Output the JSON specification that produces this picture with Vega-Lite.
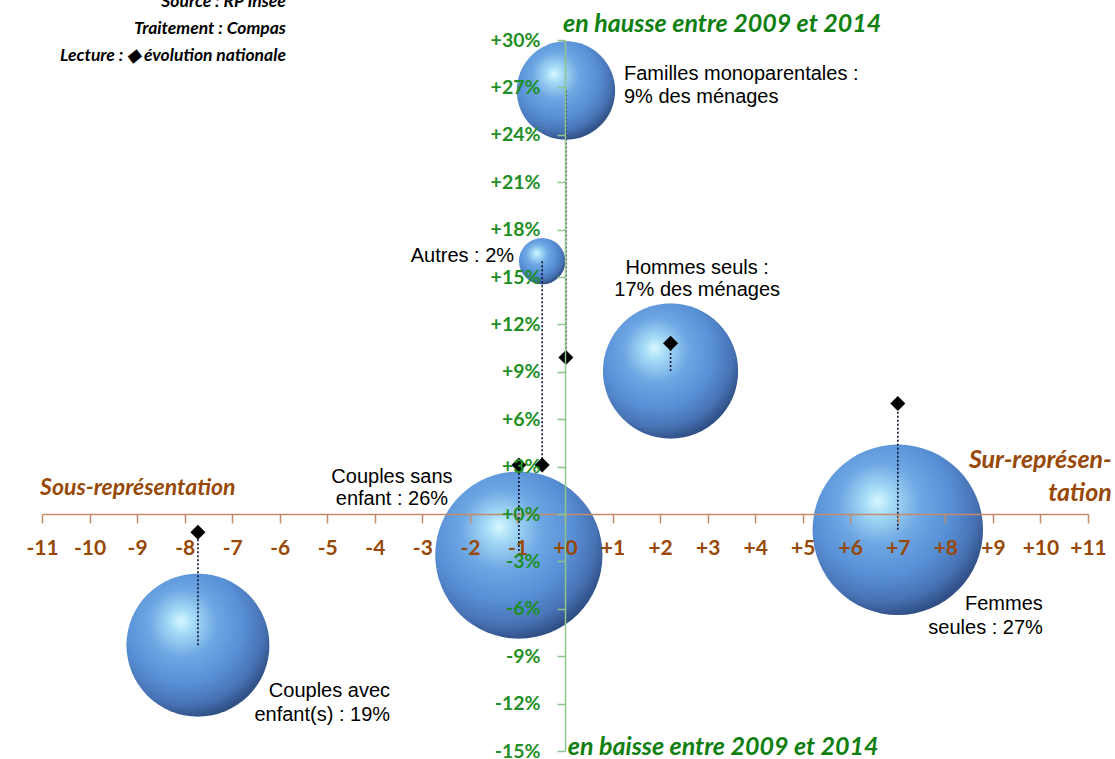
{
  "$schema": "https://vega.github.io/schema/vega-lite/v6.json",
  "width": 1046,
  "height": 711,
  "autosize": {"type": "none"},
  "padding": {"left": 42, "top": 40, "right": 27, "bottom": 8},
  "background": "white",
  "config": {"view": {"stroke": null}},
  "datasets": {
    "bulles": [
      {"type": "Familles monoparentales", "x": 0.02, "y": 26.8, "yn": 9.9, "part": 9},
      {"type": "Autres", "x": -0.48, "y": 16.0, "yn": 3.1, "part": 2},
      {"type": "Hommes seuls", "x": 2.22, "y": 9.05, "yn": 10.8, "part": 17},
      {"type": "Couples sans enfant", "x": -0.97, "y": -2.6, "yn": 3.1, "part": 26},
      {"type": "Femmes seules", "x": 7.0, "y": -1.0, "yn": 7.0, "part": 27},
      {"type": "Couples avec enfant(s)", "x": -7.72, "y": -8.3, "yn": -1.15, "part": 19}
    ],
    "etiq_gauche": [
      {"t": "Familles monoparentales :\n9% des ménages", "x": 1.24, "y": 27.85}
    ],
    "etiq_centre": [
      {"t": "Hommes seuls :\n17% des ménages", "x": 2.78, "y": 15.57},
      {"t": "Couples sans\nenfant : 26%", "x": -3.64, "y": 2.34}
    ],
    "etiq_droite": [
      {"t": "Autres : 2%", "x": -1.07, "y": 16.3},
      {"t": "Femmes\nseules : 27%", "x": 10.05, "y": -5.7},
      {"t": "Couples avec\nenfant(s) : 19%", "x": -3.68, "y": -11.2}
    ],
    "note": [
      {"t": "Source : RP Insee\nTraitement : Compas\nLecture : ◆ évolution nationale", "x": -5.87, "y": 32.4}
    ],
    "titre_sous": [
      {"t": "Sous-représentation", "x": -11.04, "y": 1.65}
    ],
    "titre_sur": [
      {"t": "Sur-représen-\ntation", "x": 11.5, "y": 3.42}
    ],
    "titre_vert": [
      {"t": "en hausse entre 2009 et 2014", "x": -0.04, "y": 31.0},
      {"t": "en baisse entre 2009 et 2014", "x": 0.06, "y": -14.75}
    ]
  },
  "encoding": {
    "x": {
      "field": "x", "type": "quantitative",
      "scale": {"domain": [-11, 11], "nice": false, "zero": false},
      "axis": {
        "title": null, "orient": "bottom", "offset": -237, "zindex": 1, "grid": false,
        "values": [-11,-10,-9,-8,-7,-6,-5,-4,-3,-2,-1,0,1,2,3,4,5,6,7,8,9,10,11],
        "labelExpr": "(datum.value >= 0 ? '+' : '') + datum.value",
        "domainColor": "#c38b6c", "domainWidth": 1.5,
        "tickColor": "#c38b6c", "tickWidth": 1.5, "tickSize": 9,
        "labelColor": "#984807", "labelFont": "Lato", "labelFontSize": 21, "labelFontWeight": "bold",
        "labelPadding": 14, "labelOverlap": false, "labelFlush": false
      }
    },
    "y": {
      "field": "y", "type": "quantitative",
      "scale": {"domain": [-15, 30], "nice": false, "zero": false},
      "axis": {
        "title": null, "orient": "left", "offset": -523, "zindex": 1, "grid": false,
        "values": [-15,-12,-9,-6,-3,0,3,6,9,12,15,18,21,24,27,30],
        "labelExpr": "(datum.value >= 0 ? '+' : '') + datum.value + '%'",
        "domainColor": "#8fc48f", "domainWidth": 1.5,
        "tickColor": "#8fc48f", "tickWidth": 1.5, "tickSize": 8,
        "labelColor": "#1f8f26", "labelFont": "Lato", "labelFontSize": 19.5, "labelFontWeight": "bold",
        "labelPadding": 17, "labelOverlap": false, "labelFlush": false
      }
    }
  },
  "layer": [
    {
      "data": {"name": "bulles"},
      "mark": {
        "type": "circle", "opacity": 1, "strokeWidth": 0,
        "fill": {
          "gradient": "radial", "x1": 0.38, "y1": 0.33, "r1": 0, "x2": 0.42, "y2": 0.38, "r2": 0.68,
          "stops": [
            {"offset": 0, "color": "#d8f8ff"},
            {"offset": 0.12, "color": "#a6dcf7"},
            {"offset": 0.35, "color": "#6ea7e3"},
            {"offset": 0.6, "color": "#5890d6"},
            {"offset": 0.8, "color": "#4873b5"},
            {"offset": 0.92, "color": "#32538a"},
            {"offset": 1, "color": "#2a4573"}
          ]
        }
      },
      "encoding": {
        "size": {"field": "part", "type": "quantitative", "scale": {"type": "linear", "domain": [0, 27], "range": [0, 29050], "zero": true}, "legend": null}
      }
    },
    {
      "data": {"name": "bulles"},
      "mark": {"type": "rule", "strokeDash": [2, 2], "strokeWidth": 1.6, "color": "#111133"},
      "encoding": {
        "y2": {"field": "yn"}
      }
    },
    {
      "data": {"name": "bulles"},
      "mark": {"type": "point", "shape": "diamond", "filled": true, "color": "black", "opacity": 1, "size": 225},
      "encoding": {
        "y": {"field": "yn", "type": "quantitative", "scale": {"domain": [-15, 30], "nice": false, "zero": false}}
      }
    },
    {
      "data": {"name": "etiq_gauche"},
      "mark": {"type": "text", "align": "left", "baseline": "middle", "lineBreak": "\n", "lineHeight": 23, "font": "Liberation Sans", "fontSize": 20, "color": "black"},
      "encoding": {"text": {"field": "t"}}
    },
    {
      "data": {"name": "etiq_centre"},
      "mark": {"type": "text", "align": "center", "baseline": "middle", "lineBreak": "\n", "lineHeight": 22, "font": "Liberation Sans", "fontSize": 20, "color": "black"},
      "encoding": {"text": {"field": "t"}}
    },
    {
      "data": {"name": "etiq_droite"},
      "mark": {"type": "text", "align": "right", "baseline": "middle", "lineBreak": "\n", "lineHeight": 24, "font": "Liberation Sans", "fontSize": 20, "color": "black"},
      "encoding": {"text": {"field": "t"}}
    },
    {
      "data": {"name": "note"},
      "mark": {"type": "text", "align": "right", "baseline": "middle", "lineBreak": "\n", "lineHeight": 27, "font": "Lato", "fontSize": 17.5, "fontWeight": "bold", "fontStyle": "italic", "color": "black"},
      "encoding": {"text": {"field": "t"}}
    },
    {
      "data": {"name": "titre_sous"},
      "mark": {"type": "text", "align": "left", "baseline": "middle", "font": "Lato", "fontSize": 23, "fontWeight": "bold", "fontStyle": "italic", "color": "#984807"},
      "encoding": {"text": {"field": "t"}}
    },
    {
      "data": {"name": "titre_sur"},
      "mark": {"type": "text", "align": "right", "baseline": "middle", "lineBreak": "\n", "lineHeight": 33, "font": "Lato", "fontSize": 25, "fontWeight": "bold", "fontStyle": "italic", "color": "#984807"},
      "encoding": {"text": {"field": "t"}}
    },
    {
      "data": {"name": "titre_vert"},
      "mark": {"type": "text", "align": "left", "baseline": "middle", "font": "Lato", "fontSize": 25, "fontWeight": "bold", "fontStyle": "italic", "color": "#0f800f"},
      "encoding": {"text": {"field": "t"}}
    }
  ]
}
